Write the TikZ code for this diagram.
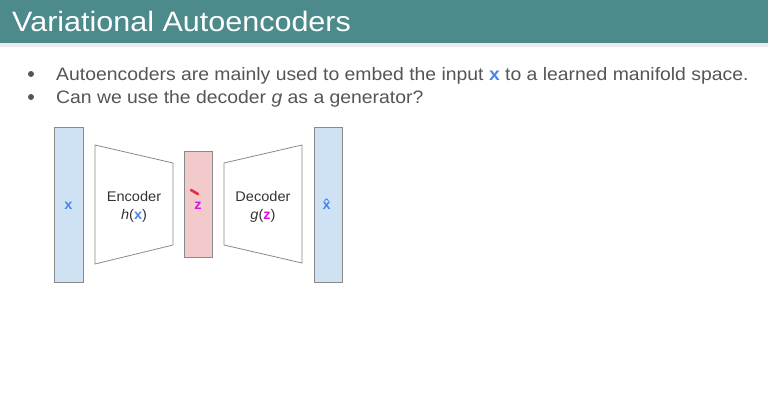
\documentclass[tikz,border=0pt]{standalone}
\usepackage{fontspec}
\setmainfont{Liberation Sans}
\newfontfamily\titlefont[FakeStretch=1.09]{Liberation Sans}
\newfontfamily\bodyfont[FakeStretch=1.076]{Liberation Sans}
\newfontfamily\labelfont[FakeStretch=1.04]{Liberation Sans}
\usetikzlibrary{calc}
\definecolor{headbar}{HTML}{4D8A8C}
\definecolor{inblue}{HTML}{CFE2F3}
\definecolor{latpink}{HTML}{F2CACC}
\definecolor{vecblue}{HTML}{4A86E8}
\definecolor{latmag}{HTML}{E010E0}
\definecolor{edgegray}{HTML}{8A8A8A}
\definecolor{bodytext}{HTML}{555555}
\definecolor{penred}{HTML}{E0303C}
\tikzset{
  layerbar/.style={draw=edgegray, line width=0.8pt},
  netblock/.style={draw=edgegray, line width=0.8pt, fill=white},
  bodyline/.style={anchor=base west, inner sep=0pt, font=\bodyfont\fontsize{18}{21}\selectfont, text=bodytext},
  blocklabel/.style={align=center, inner sep=0pt, font=\labelfont\fontsize{14}{18}\selectfont, text=black!80},
  veclabel/.style={inner sep=0pt, font=\labelfont\fontsize{14}{18}\selectfont},
  bulletdot/.style={circle, fill=bodytext, inner sep=0pt, minimum size=6pt}
}
\newcommand{\vx}{\textcolor{vecblue}{\textbf{x}}}
\newcommand{\vz}{\textcolor{latmag}{\textbf{z}}}
\begin{document}
\begin{tikzpicture}[x=1pt, y=-1pt]
\useasboundingbox (0,0) rectangle (768,405);
\fill[white] (0,0) rectangle (768,405);
% header
\fill[black!8] (0,43) rectangle (768,47);
\fill[headbar] (0,0) rectangle (768,43);
\node[anchor=base west, inner sep=0pt, text=white, font=\titlefont\fontsize{28}{30}\selectfont] (title) at (12,31) {Variational Autoencoders};
% bullet points
\node[bulletdot] (b1) at (31,74) {};
\node[bulletdot] (b2) at (31,97) {};
\node[bodyline] (l1) at (56,80) {Autoencoders are mainly used to embed the input \vx{} to a learned manifold space.};
\node[bodyline] (l2) at (56,103) {Can we use the decoder \textit{g} as a generator?};
% input layer
\draw[layerbar, fill=inblue] (54,127) rectangle (83,282);
\node[veclabel] (xin) at (68.5,206) {\vx};
% encoder
\draw[netblock] (95,145) -- (173,163) -- (173,245) -- (95,264) -- cycle;
\node[blocklabel] (enc) at (134,207) {Encoder\\\textit{h}(\vx)};
% latent code
\draw[layerbar, fill=latpink] (184,151) rectangle (212,257);
\node[veclabel] (zc) at (198,206) {\vz};
\draw[penred, line width=2.6pt, line cap=round] (191,190) -- (198,194);
% decoder
\draw[netblock] (224,163) -- (302,145) -- (302,263) -- (224,245) -- cycle;
\node[blocklabel] (dec) at (263,207) {Decoder\\\textit{g}(\vz)};
% reconstruction
\draw[layerbar, fill=inblue] (314,127) rectangle (342,282);
\node[veclabel, text=vecblue] (xout) at (328,204) {\textbf{\^x}};
\end{tikzpicture}
\end{document}
